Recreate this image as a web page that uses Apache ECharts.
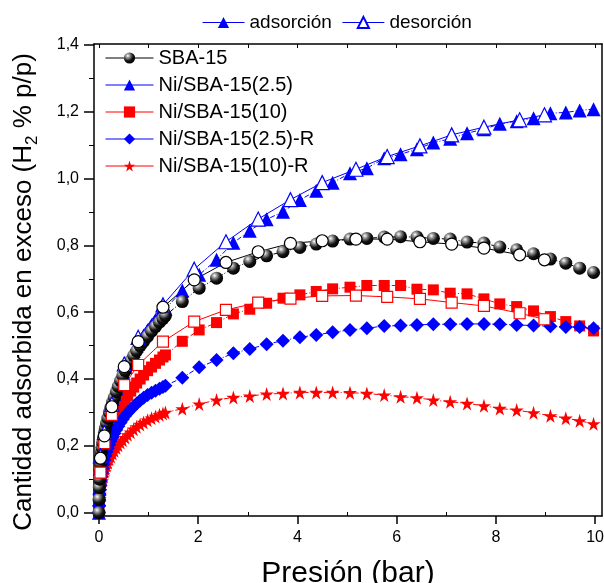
<!DOCTYPE html>
<html>
<head>
<meta charset="utf-8">
<script src="https://cdn.jsdelivr.net/npm/echarts@6/dist/echarts.min.js"></script>
<style>
  html, body { margin: 0; padding: 0; background: #fff; }
  #chart { width: 604px; height: 583px; }
</style>
</head>
<body>
<div id="chart"></div>
<script>
// Presión (bar) de los puntos de adsorción (comunes a todas las muestras)
const presionAds = [0, 0.004, 0.008, 0.013, 0.02, 0.028, 0.037, 0.048, 0.06, 0.075, 0.09, 0.11, 0.13, 0.155, 0.18, 0.21, 0.24, 0.275,
  0.31, 0.35, 0.39, 0.435, 0.48, 0.53, 0.58, 0.64, 0.7, 0.76, 0.83, 0.9, 0.98, 1.06, 1.14, 1.22, 1.29, 1.34,
  1.68, 2.02, 2.37, 2.71, 3.04, 3.38, 3.71, 4.05, 4.38, 4.71, 5.06, 5.40, 5.75, 6.08, 6.41, 6.74, 7.08, 7.42, 7.76, 8.08, 8.42, 8.76, 9.10, 9.41, 9.69, 9.97];
// Presión (bar) de los puntos de desorción
const presionDes = [8.98, 8.48, 7.76, 7.11, 6.47, 5.81, 5.18, 4.50, 3.86, 3.21, 2.56, 1.92, 1.29, 0.79, 0.51, 0.26, 0.11, 0.03];

// Cantidad adsorbida (H2 % p/p)
const sbaAds = [0, 0.04, 0.075, 0.1, 0.13, 0.147, 0.163, 0.182, 0.195, 0.21, 0.225, 0.24, 0.253, 0.268, 0.283, 0.3, 0.315, 0.331,
  0.345, 0.362, 0.378, 0.395, 0.41, 0.425, 0.439, 0.455, 0.47, 0.484, 0.499, 0.513, 0.528, 0.543, 0.557, 0.57, 0.581, 0.59,
  0.632, 0.672, 0.702, 0.732, 0.752, 0.769, 0.781, 0.794, 0.804, 0.813, 0.819, 0.821, 0.825, 0.826, 0.825, 0.821, 0.819, 0.810, 0.807, 0.795, 0.787, 0.775, 0.759, 0.747, 0.732, 0.719];
const sbaDes = [0.757, 0.772, 0.792, 0.804, 0.811, 0.819, 0.819, 0.814, 0.806, 0.781, 0.749, 0.697, 0.615, 0.512, 0.437, 0.317, 0.230, 0.163];

const ni25Ads = [0, 0.04, 0.075, 0.1, 0.13, 0.15, 0.168, 0.186, 0.2, 0.215, 0.23, 0.245, 0.258, 0.275, 0.29, 0.307, 0.323, 0.34,
  0.355, 0.372, 0.389, 0.405, 0.421, 0.437, 0.452, 0.469, 0.485, 0.5, 0.515, 0.53, 0.546, 0.562, 0.577, 0.591, 0.602, 0.61,
  0.665, 0.712, 0.757, 0.808, 0.844, 0.878, 0.901, 0.936, 0.964, 0.988, 1.016, 1.031, 1.061, 1.073, 1.088, 1.108, 1.119, 1.136, 1.148, 1.164, 1.172, 1.181, 1.196, 1.198, 1.204, 1.208];
const ni25Des = [1.191, 1.176, 1.154, 1.131, 1.098, 1.066, 1.028, 0.988, 0.937, 0.879, 0.811, 0.729, 0.622, 0.525, 0.445, 0.325, 0.24, 0.17];

const ni10Ads = [0, 0.032, 0.058, 0.078, 0.1, 0.115, 0.127, 0.142, 0.153, 0.165, 0.177, 0.19, 0.198, 0.208, 0.22, 0.236, 0.25, 0.265,
  0.278, 0.29, 0.303, 0.315, 0.327, 0.34, 0.351, 0.364, 0.376, 0.388, 0.4, 0.412, 0.425, 0.436, 0.447, 0.457, 0.466, 0.472,
  0.513, 0.547, 0.569, 0.595, 0.609, 0.627, 0.642, 0.652, 0.662, 0.670, 0.675, 0.680, 0.680, 0.680, 0.669, 0.667, 0.657, 0.655, 0.640, 0.625, 0.617, 0.604, 0.587, 0.572, 0.559, 0.544];
const ni10Des = [0.579, 0.597, 0.619, 0.629, 0.640, 0.646, 0.650, 0.649, 0.641, 0.629, 0.607, 0.572, 0.512, 0.442, 0.382, 0.293, 0.208, 0.12];

const ni25R = [0, 0.02, 0.038, 0.053, 0.068, 0.082, 0.095, 0.108, 0.12, 0.133, 0.145, 0.158, 0.17, 0.182, 0.193, 0.204, 0.215, 0.226,
  0.237, 0.248, 0.259, 0.27, 0.28, 0.29, 0.299, 0.309, 0.318, 0.327, 0.336, 0.344, 0.352, 0.359, 0.365, 0.371, 0.376, 0.38,
  0.404, 0.435, 0.457, 0.477, 0.490, 0.504, 0.515, 0.525, 0.532, 0.540, 0.547, 0.552, 0.559, 0.560, 0.562, 0.564, 0.564, 0.565, 0.565, 0.564, 0.562, 0.560, 0.558, 0.556, 0.556, 0.552];

const ni10R = [0, 0.016, 0.029, 0.041, 0.055, 0.066, 0.076, 0.086, 0.095, 0.104, 0.113, 0.123, 0.131, 0.141, 0.15, 0.16, 0.168, 0.177,
  0.185, 0.194, 0.202, 0.21, 0.217, 0.225, 0.233, 0.241, 0.25, 0.257, 0.264, 0.27, 0.277, 0.283, 0.288, 0.293, 0.297, 0.3,
  0.311, 0.325, 0.337, 0.345, 0.349, 0.355, 0.357, 0.360, 0.360, 0.360, 0.359, 0.357, 0.352, 0.347, 0.344, 0.337, 0.332, 0.327, 0.320, 0.312, 0.307, 0.299, 0.290, 0.283, 0.275, 0.266];

const muestras = ['SBA-15', 'Ni/SBA-15(2.5)', 'Ni/SBA-15(10)', 'Ni/SBA-15(2.5)-R', 'Ni/SBA-15(10)-R'];
const xTicks = [0, 2, 4, 6, 8, 10];
const xMinorTicks = [1, 3, 5, 7, 9];
const xTopTicks = [0, 1, 2, 3, 4, 5, 6, 7, 8, 9, 10];
const yTicks = [0, 0.2, 0.4, 0.6, 0.8, 1.0, 1.2, 1.4];
const yMinorTicks = [0.1, 0.3, 0.5, 0.7, 0.9, 1.1, 1.3];

const FONT = '"Liberation Sans", Arial, sans-serif';
const BLUE = '#0000ff';
const RED = '#ff0000';
const X_MIN = -0.1, X_MAX = 10.14;
const Y_MIN = -0.01, Y_MAX = 1.403;

const zip = (xs, ys) => xs.map((x, i) => [x, ys[i]]);

// esfera negra con brillo
const sphere = new echarts.graphic.RadialGradient(0.35, 0.3, 0.7, [
  { offset: 0, color: '#ffffff' },
  { offset: 0.25, color: '#9a9a9a' },
  { offset: 0.65, color: '#151515' },
  { offset: 1, color: '#000000' }
]);
const star = 'path://M50,0 L61,35 L98,35 L68,57 L79,91 L50,70 L21,91 L32,57 L2,35 L39,35 Z';
const dashDot = [5, 2, 1, 2];

function ads(name, values, symbol, size, lineColor, fill) {
  return {
    type: 'line', name: name, data: zip(presionAds, values),
    symbol: symbol, symbolSize: size,
    itemStyle: { color: fill, borderWidth: 0 },
    lineStyle: { color: lineColor, width: 1, type: dashDot },
    emphasis: { disabled: true }
  };
}

function des(name, values, symbol, size, color) {
  return {
    type: 'line', name: name, data: zip(presionDes, values),
    symbol: symbol, symbolSize: size,
    itemStyle: { color: '#ffffff', borderColor: color, borderWidth: 1.2 },
    lineStyle: { color: color, width: 1, type: 'solid' },
    emphasis: { disabled: true }
  };
}

const baseAxis = {
  type: 'value', min: X_MIN, max: X_MAX,
  splitLine: { show: false },
  axisLine: { show: true, onZero: false, lineStyle: { color: '#000', width: 1.5 } }
};

let option = {
  animation: false,
  backgroundColor: '#fff',
  grid: { left: 94, right: 2, top: 44, bottom: 67, containLabel: false, outerBoundsMode: 'none' },
  legend: [
    {
      data: ['adsorción', 'desorción'],
      left: 202, top: 13, padding: 0,
      itemWidth: 42, itemHeight: 14, itemGap: 10,
      selectedMode: false,
      lineStyle: { type: 'solid', width: 1 },
      textStyle: { fontSize: 19, fontFamily: FONT, color: '#000' }
    },
    {
      data: muestras,
      orient: 'vertical', left: 105, top: 48, padding: 0,
      itemWidth: 48, itemHeight: 14, itemGap: 7,
      selectedMode: false,
      lineStyle: { type: 'solid', width: 1 },
      textStyle: { fontSize: 20, fontFamily: FONT, color: '#000' }
    }
  ],
  xAxis: [
    Object.assign({}, baseAxis, {
      position: 'bottom',
      axisTick: { show: true, inside: false, length: 8, customValues: xTicks, lineStyle: { color: '#000', width: 1.5 } },
      axisLabel: { customValues: xTicks, fontSize: 16, fontFamily: FONT, color: '#000', margin: 14, formatter: v => String(Math.round(v)) },
      name: 'Presión (bar)', nameLocation: 'middle', nameGap: 43,
      nameTextStyle: { fontSize: 30, fontFamily: FONT, color: '#000' }
    }),
    Object.assign({}, baseAxis, {
      position: 'top',
      axisTick: { show: true, inside: true, length: 4, customValues: xTopTicks, lineStyle: { color: '#000', width: 1 } },
      axisLabel: { show: false }
    }),
    Object.assign({}, baseAxis, {
      position: 'bottom',
      axisLine: { show: false, onZero: false },
      axisTick: { show: true, inside: true, length: 4, customValues: xMinorTicks, lineStyle: { color: '#000', width: 1 } },
      axisLabel: { show: false }
    })
  ],
  yAxis: [
    Object.assign({}, baseAxis, {
      min: Y_MIN, max: Y_MAX, position: 'left',
      axisTick: { show: true, inside: false, length: 10, customValues: yTicks, lineStyle: { color: '#000', width: 1.5 } },
      axisLabel: { customValues: yTicks, fontSize: 16, fontFamily: FONT, color: '#000', margin: 15, formatter: v => v.toFixed(1).replace('.', ',') },
      name: '{t|Cantidad adsorbida en exceso (H}{s|2}{t| % p/p)}',
      nameLocation: 'middle', nameGap: 53,
      nameTextStyle: {
        padding: [0, 24, 0, 0],
        rich: {
          t: { fontSize: 26, fontFamily: FONT, color: '#000', lineHeight: 30, verticalAlign: 'top' },
          s: { fontSize: 17, fontFamily: FONT, color: '#000', lineHeight: 17, verticalAlign: 'bottom' }
        }
      }
    }),
    Object.assign({}, baseAxis, {
      min: Y_MIN, max: Y_MAX, position: 'right',
      axisTick: { show: false },
      axisLabel: { show: false }
    }),
    Object.assign({}, baseAxis, {
      min: Y_MIN, max: Y_MAX, position: 'left',
      axisLine: { show: false, onZero: false },
      axisTick: { show: true, inside: false, length: 5, customValues: yMinorTicks, lineStyle: { color: '#000', width: 1 } },
      axisLabel: { show: false }
    })
  ],
  series: [
    // series vacías solo para la leyenda superior
    { type: 'line', name: 'adsorción', data: [], symbol: 'triangle', symbolSize: 12,
      itemStyle: { color: BLUE }, lineStyle: { color: BLUE, width: 1 } },
    { type: 'line', name: 'desorción', data: [], symbol: 'triangle', symbolSize: 12,
      itemStyle: { color: '#fff', borderColor: BLUE, borderWidth: 1.2 }, lineStyle: { color: BLUE, width: 1 } },

    ads(muestras[4], ni10R, star, 14, RED, RED),
    ads(muestras[2], ni10Ads, 'rect', 11, RED, RED),
    ads(muestras[3], ni25R, 'diamond', 14, BLUE, BLUE),
    ads(muestras[1], ni25Ads, 'triangle', 14, BLUE, BLUE),
    ads(muestras[0], sbaAds, 'circle', 13, '#000', sphere),

    des(muestras[2], ni10Des, 'rect', 11, RED),
    des(muestras[1], ni25Des, 'triangle', 14, BLUE),
    des(muestras[0], sbaDes, 'circle', 12, '#000')
  ]
};

const chart = echarts.init(document.getElementById('chart'));
chart.setOption(option);
</script>
</body>
</html>
